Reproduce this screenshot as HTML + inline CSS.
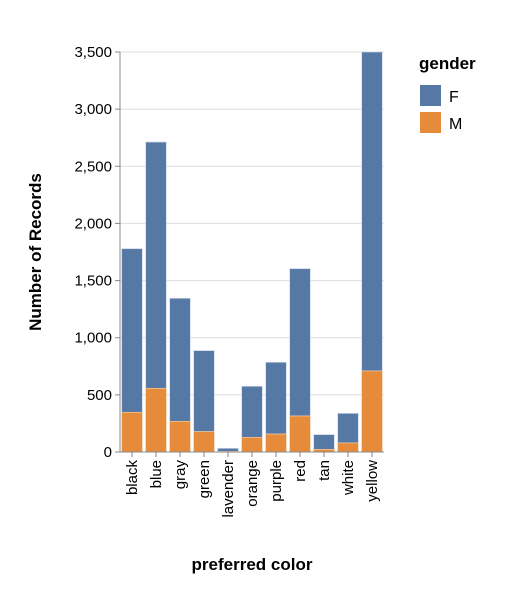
<!DOCTYPE html>
<html><head><meta charset="utf-8"><style>
body{margin:0;background:#fff;font-family:"Liberation Sans",Arial,sans-serif}
svg text{font-family:"Liberation Sans",Arial,sans-serif}
</style></head><body>
<svg id="chart" width="512" height="591" xmlns="http://www.w3.org/2000/svg">
<g id="grid"></g>
<g id="bars"></g>
<g id="axes"></g>
<text transform="translate(41,252) rotate(-90)" text-anchor="middle" font-size="17" font-weight="bold">Number of Records</text>
<text x="252" y="570" text-anchor="middle" font-size="17" font-weight="bold">preferred color</text>
<g>
<text x="419" y="69" font-size="17" font-weight="bold">gender</text>
<rect x="420" y="85" width="21" height="21" fill="#5578a5"/>
<text x="449" y="102" font-size="16">F</text>
<rect x="420" y="112" width="21" height="21" fill="#e68b3a"/>
<text x="449" y="129" font-size="16">M</text>
</g>
</svg>
<script>
const categories=["black","blue","gray","green","lavender","orange","purple","red","tan","white","yellow"];
const maleValues=[347,557,268,178,5,128,157,315,23,79,709];
const femaleValues=[1432,2155,1077,709,27,447,628,1289,129,259,2791];
const yTicks=[0,500,1000,1500,2000,2500,3000,3500];
const NS="http://www.w3.org/2000/svg";
const x0=120,x1=384,y0=452,y1=52,yMax=3500;
const bw=(x1-x0)/categories.length;
function ys(v){return y0-(v/yMax)*(y0-y1);}
function xs(i){return x0+i*bw;}
function mk(t,a,p){const e=document.createElementNS(NS,t);for(const k in a)e.setAttribute(k,a[k]);p.appendChild(e);return e;}
const grid=document.getElementById('grid'),bars=document.getElementById('bars'),axes=document.getElementById('axes');
yTicks.forEach(t=>{
  const g=mk('line',{x1:x0,x2:x1,y1:ys(t),y2:ys(t),stroke:'#ddd','stroke-width':1},grid);
  
  
  const tk=mk('line',{x1:x0-5,x2:x0,y1:ys(t),y2:ys(t),stroke:'#888','stroke-width':1},axes);
  
  
  const tx=mk('text',{x:x0-8,y:ys(t)+5,'text-anchor':'end','font-size':'15'},axes);
  tx.textContent=t.toLocaleString('en-US');
  
  
});
categories.forEach((c,i)=>{
  const bx=xs(i)+bw*0.05+0.5,w=bw*0.9-1;
  const m=maleValues[i],f=femaleValues[i];
  const rf=mk('rect',{x:bx,y:ys(m+f),width:w,height:ys(m)-ys(m+f),fill:'#5578a5',stroke:'#c9d5e6','stroke-width':0.7},bars);
  
  
  const rm=mk('rect',{x:bx,y:ys(m),width:w,height:ys(0)-ys(m),fill:'#e68b3a',stroke:'#f3c9a0','stroke-width':0.7},bars);
  
  
  const cx=xs(i)+bw/2;
  const tk=mk('line',{x1:cx,x2:cx,y1:y0,y2:y0+5,stroke:'#888','stroke-width':1},axes);
  
  
  const tx=mk('text',{transform:`translate(${cx+5},${y0+8}) rotate(-90)`,'text-anchor':'end','font-size':'15'},axes);
  tx.textContent=c;
  
  
});
const ya=mk('line',{x1:x0,x2:x0,y1:y1,y2:y0,stroke:'#888','stroke-width':1},axes);


const xa=mk('line',{x1:x0,x2:x1,y1:y0,y2:y0,stroke:'#888','stroke-width':1},axes);


</script>
</body></html>
